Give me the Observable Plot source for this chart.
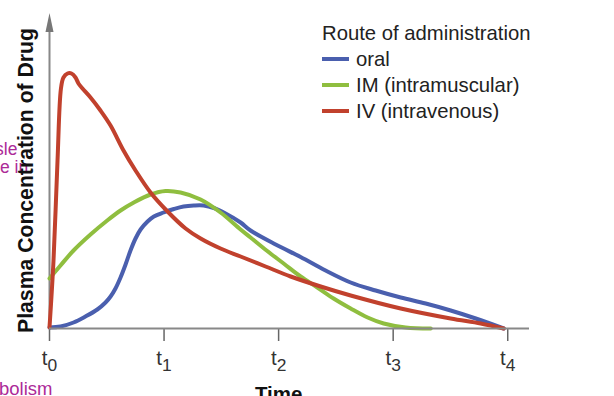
<!DOCTYPE html>
<html>
<head>
<meta charset="utf-8">
<script src="https://cdn.jsdelivr.net/npm/d3@7"></script>
<script src="https://cdn.jsdelivr.net/npm/@observablehq/plot@0.6"></script>
<style>
  html, body { margin: 0; padding: 0; background: #fff; }
  #wrap { position: relative; width: 614px; height: 396px; overflow: hidden; font-family: "Liberation Sans", Arial, sans-serif; }
  #legend { position: absolute; left: 322px; top: 20px; color: #222; font-size: 20.3px; line-height: 26px; }
  #legend .item { display: flex; align-items: center; }
  #legend .sw { width: 27px; height: 4px; margin-right: 7px; }
  .frag { position: absolute; color: #ac2a98; font-size: 17.5px; font-family: "Liberation Sans", Arial, sans-serif; }
</style>
</head>
<body>
<div id="wrap">
  <div class="frag" style="top:139px;left:-5px">sle</div>
  <div class="frag" style="top:157px;left:0px">e in</div>
  <div class="frag" style="top:378px;left:-1px;font-size:18.5px">bolism</div>
  <div id="chart" style="position:absolute;left:0;top:0"></div>
  <div id="legend"></div>
</div>
<script>
// Time (in units of t) and plasma concentration (arbitrary units)
const oralTime = [0, 0.096, 0.210, 0.314, 0.417, 0.489, 0.533, 0.576, 0.620, 0.664, 0.707, 0.751, 0.795, 0.856, 0.911, 0.996, 1.086, 1.170, 1.260, 1.345, 1.435, 1.537, 1.668, 1.755, 1.974, 2.192, 2.410, 2.629, 2.847, 3.066, 3.284, 3.502, 3.721, 3.965];
const oralConc = [1, 2, 6, 12, 19, 26, 32, 40, 51, 64, 78, 90, 99, 107, 112, 116, 119.5, 122, 123, 123, 120.5, 115, 106, 98, 84, 71.5, 58, 46, 38, 31, 25, 18, 10, 0];

const imTime = [0, 0.096, 0.210, 0.358, 0.504, 0.620, 0.736, 0.882, 1.013, 1.144, 1.319, 1.493, 1.668, 1.755, 1.895, 2.044, 2.192, 2.338, 2.480, 2.629, 2.777, 2.917, 3.109, 3.328];
const imConc = [50, 63, 78, 94, 108, 118, 126, 134, 137.5, 136, 129, 116, 99, 91, 78, 65, 52, 41, 30, 20, 11, 5, 1, 0];

const ivTime = [0, 0.035, 0.070, 0.100, 0.122, 0.157, 0.192, 0.227, 0.253, 0.288, 0.358, 0.445, 0.533, 0.646, 0.751, 0.882, 1.022, 1.188, 1.319, 1.493, 1.668, 1.886, 2.105, 2.367, 2.629, 3.066, 3.502, 3.764, 3.965];
const ivConc = [1, 68, 168, 240, 251, 255, 255, 251, 245, 240, 231, 218, 203, 178, 158, 136, 118, 100, 90, 80, 72, 62, 52, 42, 33, 20, 10, 5, 0];

const routes = ["oral", "IM (intramuscular)", "IV (intravenous)"];
const routeColors = ["#4a5fae", "#8fbe3f", "#c1412d"];

const tickValues = [0, 1, 2, 3, 4];
const tickSubscripts = ["0", "1", "2", "3", "4"];

const legendTitle = "Route of administration";
const yLabel = "Plasma Concentration of Drug";
const xLabel = "Time";

const series = [
  {route: routes[0], t: oralTime, c: oralConc},
  {route: routes[1], t: imTime, c: imConc},
  {route: routes[2], t: ivTime, c: ivConc}
];
const rows = series.flatMap(s => s.t.map((t, i) => ({route: s.route, time: t, conc: s.c[i]})));

const arrowHead = {
  draw(context) {
    context.moveTo(0, -10);
    context.lineTo(4, 9);
    context.lineTo(-4, 9);
    context.closePath();
  }
};

const chart = Plot.plot({
  width: 614,
  height: 396,
  marginLeft: 49,
  marginRight: 85,
  marginTop: 13,
  marginBottom: 68,
  x: {domain: [0, 4.19]},
  y: {domain: [0, 315], axis: null},
  color: {domain: routes, range: routeColors},
  style: {fontFamily: "Liberation Sans, Arial, sans-serif", background: "transparent"},
  marks: [
    Plot.axisX({ticks: tickValues, tickSize: 13, tickPadding: 9, fontSize: 20.5, stroke: "#666", strokeWidth: 1.5, fill: "#333", tickFormat: d => "t" + tickSubscripts[d], label: null}),
    Plot.ruleX([0], {y1: 0, y2: 300, stroke: "#888", strokeWidth: 2}),
    Plot.dot([0], {x: d => d, y: 305.5, symbol: arrowHead, fill: "#777", stroke: "none"}),
    Plot.line(rows, {x: "time", y: "conc", z: "route", stroke: "route", strokeWidth: 4, curve: "catmull-rom"}),
    Plot.ruleY([0], {x1: 0, x2: 4.19, stroke: "#888", strokeWidth: 2}),
    Plot.text([yLabel], {x: -0.2, y: 148, rotate: -90, fontWeight: "bold", fontSize: 21.2, fill: "#111", text: d => d}),
    Plot.text([xLabel], {x: 2, y: -58, lineAnchor: "top", fontWeight: "bold", fontSize: 20.5, fill: "#111", text: d => d})
  ]
});
document.getElementById("chart").appendChild(chart);

// subscript tick labels
d3.select(chart).selectAll('g[aria-label="x-axis tick label"] text').each(function(d, i) {
  const sel = d3.select(this);
  const sub = tickSubscripts[i];
  sel.text("t");
  sel.append("tspan").attr("dy", "0.35em").attr("font-size", "0.85em").text(sub);
});

// legend
const legend = d3.select("#legend");
legend.append("div").text(legendTitle);
routes.forEach((r, i) => {
  const it = legend.append("div").attr("class", "item");
  it.append("div").attr("class", "sw").style("background", routeColors[i]);
  it.append("span").text(r);
});
</script>
</body>
</html>
